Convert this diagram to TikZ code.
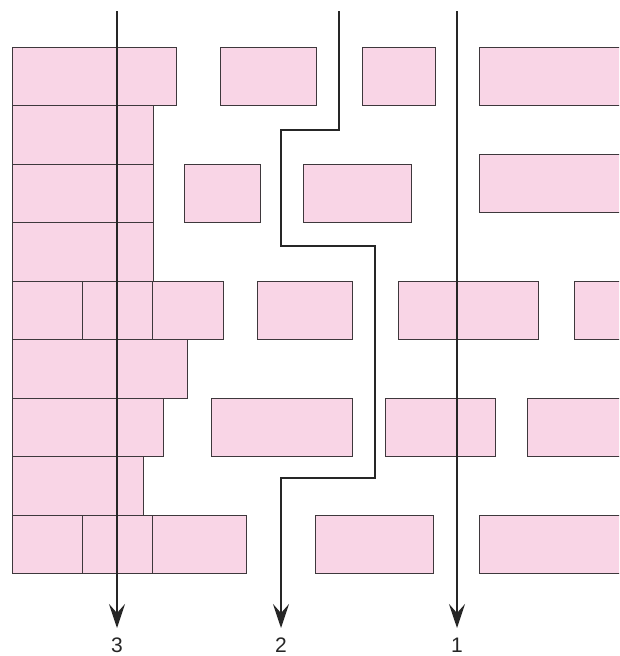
\documentclass[tikz,border=0pt]{standalone}
\usepackage{fontspec}
\setmainfont{Liberation Sans}
\usetikzlibrary{arrows.meta,positioning}
\definecolor{brickpink}{RGB}{249,213,230}
\definecolor{brickline}{RGB}{62,56,60}

\begin{document}
\begin{tikzpicture}[
      x=1pt,y=-1pt,
      brick/.style={draw=brickline,fill=brickpink,line width=0.9pt},
      route/.style={line width=2.2pt,draw=black!85,
        -{Stealth[length=24pt,width=16pt,inset=9pt]},shorten >=10pt},
      lbl/.style={font=\fontsize{21}{21}\selectfont,inner sep=0pt,anchor=north,text=black!85},
    ]
    \useasboundingbox (0,0) rectangle (619,656);
    \clip (0,0) rectangle (619,656);
    % bricks, row by row: top / bottom / list of left-right
    \foreach \ya/\yb/\xs in {
        47/105.5/{12/176,220/316,362/435,479/630},
        105.5/164/{12/153},
        164/222.5/{12/153,184/260,303/411},
        154/212/{479/630},
        222.5/281/{12/153},
        281/339.5/{12/82,82/152,152/223,257/352,398/538,574/630},
        339.5/398/{12/187},
        398/456.5/{12/163,211/352,385/495,527/630},
        456.5/515/{12/143},
        515/573.5/{12/82,82/152,152/246,315/433,479/630}}{
      \foreach \xa/\xb in \xs
        \draw[brick] (\xa,\ya) rectangle (\xb,\yb);
    }
    % start points
    \coordinate (top3) at (117,11);
    \coordinate (top2) at (339,11);
    \coordinate (top1) at (457,11);
    % labels
    \node[lbl] (lbl3) at (117,638) {3};
    \node[lbl] (lbl2) at (281,638) {2};
    \node[lbl] (lbl1) at (457,638) {1};

    \draw[route] (top3)--(lbl3.north);
    \draw[route] (top2)--(339,130)--(281,130)--(281,246)--(375,246)
      --(375,478)--(281,478)--(lbl2.north);
    \draw[route] (top1)--(lbl1.north);
  \end{tikzpicture}
\end{document}
